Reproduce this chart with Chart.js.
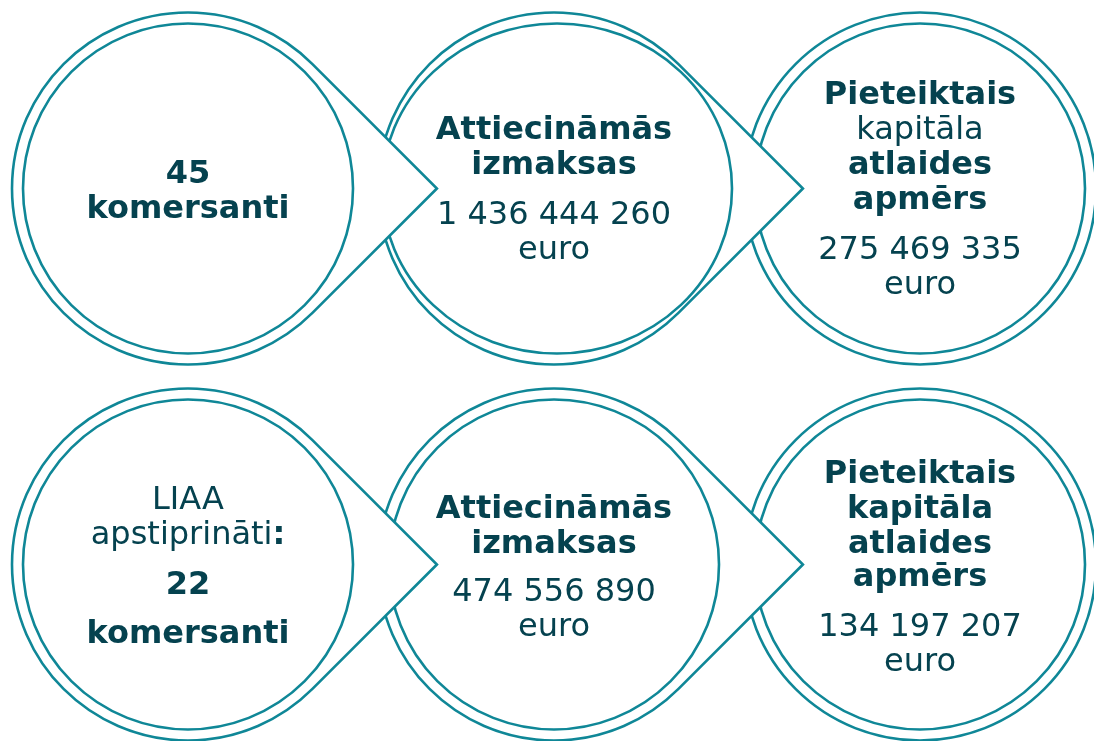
<!DOCTYPE html>
<html lang="lv">
<head>
<meta charset="utf-8">
<title>Kapitāla atlaide</title>
<script src="https://cdn.jsdelivr.net/npm/chart.js@4"></script>
<style>
  html, body { margin: 0; padding: 0; background: #ffffff; }
  canvas { display: block; }
</style>
</head>
<body>
<canvas id="grafiks" width="1094" height="741"></canvas>
<script>
// Dati
const soli = ['Komersanti', 'Attiecināmās izmaksas', 'Kapitāla atlaide'];
const rindas = ['Pieteikti', 'LIAA apstiprināti'];
const komersanti = [45, 22];
const izmaksas = [1436444260, 474556890];
const atlaide = [275469335, 134197207];
const vieniba = 'euro';

const lineColor = '#0f8797';
const textColor = '#05424f';
const fontName = '"DejaVu Sans", Verdana, sans-serif';
const fontSize = 32;

function formatNum(n) {
    return String(n).replace(/\B(?=(\d{3})+(?!\d))/g, ' ');
}

// teksta rindas katram aplim: [[teksts, bold], ...]
function aplaTeksts(rinda, solis) {
    if (solis === 0) {
        if (rinda === 0) {
            return [[[komersanti[0] + '', true]], [['komersanti', true]]];
        }
        return [
            [['LIAA', false]],
            [['apstiprināti', false], [':', true]],
            [[komersanti[1] + '', true]],
            [['komersanti', true]]
        ];
    }
    if (solis === 1) {
        return [
            [['Attiecināmās', true]],
            [['izmaksas', true]],
            [[formatNum(izmaksas[rinda]), false]],
            [[vieniba, false]]
        ];
    }
    return [
        [['Pieteiktais', true]],
        [['kapitāla', rinda === 1]],
        [['atlaides', true]],
        [['apmērs', true]],
        [[formatNum(atlaide[rinda]), false]],
        [[vieniba, false]]
    ];
}

// bāzes līniju nobīdes no apļa centra (px)
const nobides = [
    [[-6, 29], [-50, -15, 35, 70], [-85, -50, -15, 20, 70, 105]],
    [[-56, -21, 29, 78], [-47, -12, 36, 71], [-82, -47, -12, 21, 71, 106]]
];

var punkti = [];
rindas.forEach(function (r, ri) {
    soli.forEach(function (s, si) {
        punkti.push({ x: si, y: ri, rinda: ri, solis: si });
    });
});

const aplisPlugin = {
    id: 'apli',
    afterDatasetsDraw: function (chart) {
        const ctx = chart.ctx;
        const meta = chart.getDatasetMeta(0);
        const R = 176, r = 165;
        ctx.save();
        ctx.lineWidth = 2.6;
        ctx.strokeStyle = lineColor;

        // zīmē no labās uz kreiso, lai bultas pārklāj nākamo apli
        for (let ri = 0; ri < rindas.length; ri++) {
            for (let si = soli.length - 1; si >= 0; si--) {
                const el = meta.data[ri * soli.length + si];
                const cx = el.x, cy = el.y;
                ctx.beginPath();
                if (si < soli.length - 1) {
                    const k = R / Math.SQRT2;
                    ctx.moveTo(cx + R * Math.SQRT2, cy);
                    ctx.lineTo(cx + k, cy + k);
                    ctx.arc(cx, cy, R, Math.PI / 4, Math.PI * 7 / 4);
                    ctx.closePath();
                } else {
                    ctx.arc(cx, cy, R, 0, Math.PI * 2);
                }
                ctx.fillStyle = '#ffffff';
                ctx.fill();
                ctx.stroke();

                ctx.beginPath();
                if (ri === 0 && si === 1) {
                    ctx.ellipse(cx + 3, cy, 175, r, 0, 0, Math.PI * 2);
                } else {
                    ctx.arc(cx, cy, r, 0, Math.PI * 2);
                }
                ctx.stroke();
            }
        }

        // teksti
        ctx.fillStyle = textColor;
        ctx.textBaseline = 'alphabetic';
        ctx.textAlign = 'left';
        meta.data.forEach(function (el, i) {
            const p = punkti[i];
            const rindasTeksti = aplaTeksts(p.rinda, p.solis);
            const dy = nobides[p.rinda][p.solis];
            rindasTeksti.forEach(function (runs, li) {
                let w = 0;
                runs.forEach(function (run) {
                    ctx.font = (run[1] ? 'bold ' : '') + fontSize + 'px ' + fontName;
                    w += ctx.measureText(run[0]).width;
                });
                let x = el.x - w / 2;
                runs.forEach(function (run) {
                    ctx.font = (run[1] ? 'bold ' : '') + fontSize + 'px ' + fontName;
                    ctx.fillText(run[0], x, el.y + dy[li]);
                    x += ctx.measureText(run[0]).width;
                });
            });
        });
        ctx.restore();
    }
};

const ctx = document.getElementById('grafiks').getContext('2d');
var grafiks = new Chart(ctx, {
    type: 'scatter',
    data: {
        datasets: [{
            label: 'Apļi',
            data: punkti,
            pointRadius: 0,
            pointHoverRadius: 0
        }]
    },
    options: {
        responsive: false,
        animation: false,
        layout: { padding: 0 },
        scales: {
            x: { type: 'linear', display: false, min: -188 / 366, max: -188 / 366 + 1094 / 366 },
            y: { type: 'linear', display: false, reverse: true, min: -188.5 / 376, max: -188.5 / 376 + 741 / 376 }
        },
        plugins: {
            legend: { display: false },
            tooltip: { enabled: false }
        }
    },
    plugins: [aplisPlugin]
});
</script>
</body>
</html>
